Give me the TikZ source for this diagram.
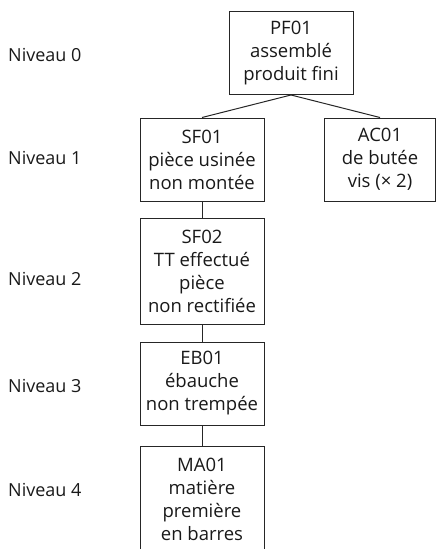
\documentclass[tikz,border=0pt]{standalone}
\usepackage{fontspec}
\setmainfont{Open Sans}
\tikzset{
  levelbox/.style  = {shape=rectangle, draw=black!85, line width=1pt,
                      align=center, text=black!90, inner sep=2pt,
                      minimum width=124pt, minimum height=83pt,
                      font=\fontsize{18.5}{23}\selectfont},
  tallbox/.style   = {levelbox, minimum height=106pt},
  narrowbox/.style = {levelbox, minimum width=111pt},
  levellabel/.style = {anchor=west, inner sep=0pt, text=black!90,
                       font=\fontsize{18}{23}\selectfont}
}

\begin{document}
\begin{tikzpicture}[x=1pt, y=1pt,
    grow                    = down,
    edge from parent/.style = {draw=black!85, line width=1pt},
    edge from parent path   = {(\tikzparentnode.south) -- (\tikzchildnode.north)}
  ]
\tikzstyle{level 1}=[sibling distance=178pt, level distance=106.5pt]
\tikzstyle{level 2}=[level distance=111.5pt]
\tikzstyle{level 3}=[level distance=112.5pt]
\tikzstyle{level 4}=[level distance=115.5pt]
  \clip (0,0) rectangle (443,-549);

  % levels
  \foreach \n/\y in {0/55, 1/158, 2/279, 3/386, 4/490}
    \node [levellabel] (niv\n) at (8,-\y) {Niveau \n};

	\node [levelbox] (pf01) at (291,-53) {PF01\\assemblé\\produit fini}
    child { node [levelbox] (sf01) {SF01\\pièce usinée\\non montée}
        child { node [tallbox] (sf02) {SF02\\TT effectué\\pièce\\non rectifiée}
            child { node [levelbox] (eb01) {EB01\\ébauche\\non trempée}
                child { node [tallbox] (ma01) {MA01\\matière\\première\\en barres} }
            }
        }
    }
    child { node [narrowbox] (ac01) {AC01\\de butée\\vis (× 2)} };

\end{tikzpicture}
\end{document}
